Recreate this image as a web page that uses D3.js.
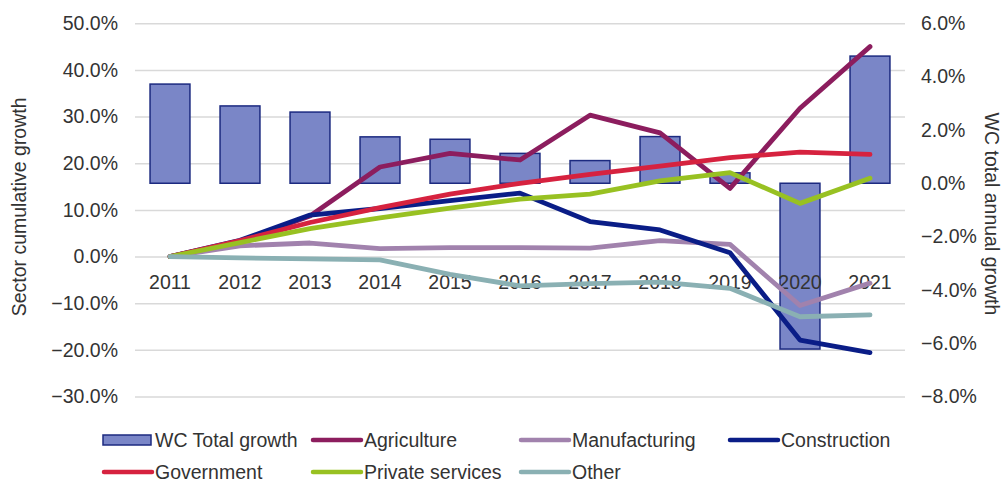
<!DOCTYPE html>
<html>
<head>
<meta charset="utf-8">
<script src="https://cdn.jsdelivr.net/npm/d3@7"></script>
<style>
  html, body { margin: 0; padding: 0; background: #fff; }
  svg { display: block; font-family: "Liberation Sans", Arial, sans-serif; }
</style>
</head>
<body>
<svg id="chart" width="1008" height="484"></svg>
<script>
// Years on the category axis
const years = ["2011","2012","2013","2014","2015","2016","2017","2018","2019","2020","2021"];

// Western Cape total annual growth (%), right axis, bars
const wcTotal = [3.72, 2.90, 2.67, 1.74, 1.65, 1.12, 0.85, 1.75, 0.39, -6.22, 4.77];

// Sector cumulative growth since 2011 (%), left axis, lines
const agriculture     = [0, 3.2, 8.7, 19.2, 22.1, 20.7, 30.3, 26.5, 14.6, 31.8, 45.0];
const manufacturing   = [0, 2.3, 2.9, 1.7, 1.9, 1.9, 1.8, 3.4, 2.6, -10.5, -5.7];
const construction    = [0, 3.5, 8.9, 10.3, 12.0, 13.6, 7.5, 5.7, 0.8, -17.9, -20.6];
const government      = [0, 3.4, 7.3, 10.5, 13.4, 15.7, 17.6, 19.4, 21.2, 22.4, 21.9];
const privateServices = [0, 3.0, 6.0, 8.3, 10.4, 12.3, 13.4, 16.2, 18.0, 11.4, 16.8];
const other           = [0, -0.3, -0.5, -0.7, -3.8, -6.3, -5.8, -5.5, -6.8, -12.9, -12.5];

// Axis tick values
const leftTicks  = [50, 40, 30, 20, 10, 0, -10, -20, -30];
const rightTicks = [6, 4, 2, 0, -2, -4, -6, -8];

const seriesNames  = ["Agriculture", "Manufacturing", "Construction", "Government", "Private services", "Other"];
const seriesValues = [agriculture, manufacturing, construction, government, privateServices, other];
const seriesColors = ["#8C1D5E", "#A182AD", "#0A1D87", "#D6223F", "#98C122", "#8AB0B3"];

const svg = d3.select("#chart");
const textColor = "#333333";
const fontSize = 19.5;

const plotLeft = 135, plotRight = 905, plotTop = 23.3, plotBottom = 396.5;

const x = d3.scaleBand().domain(years).range([plotLeft, plotRight])
  .paddingInner(0.43).paddingOuter(0.215);
const yL = d3.scaleLinear().domain([-30, 50]).range([plotBottom, plotTop]);
const yR = d3.scaleLinear().domain([-8, 6]).range([plotBottom, plotTop]);

// Horizontal gridlines on the left-axis ticks
const gridY = d3.axisLeft(yL).tickValues(leftTicks).tickSize(-(plotRight - plotLeft)).tickFormat("");
const grid = svg.append("g").attr("transform", `translate(${plotLeft},0)`).call(gridY);
grid.select(".domain").remove();
grid.selectAll(".tick line").attr("stroke", "#D9D9D9").attr("stroke-width", 1.5);

// Left axis labels
const leftAxis = d3.axisLeft(yL).tickValues(leftTicks).tickSize(0).tickPadding(0)
  .tickFormat(d => d3.format(".1f")(d) + "%");
const gl = svg.append("g").attr("transform", "translate(118,0)").call(leftAxis);
gl.select(".domain").remove();
gl.selectAll("text").attr("font-size", fontSize).attr("fill", textColor)
  .attr("font-family", "Liberation Sans, Arial, sans-serif");

// Right axis labels
const rightAxis = d3.axisRight(yR).tickValues(rightTicks).tickSize(0).tickPadding(0)
  .tickFormat(d => d3.format(".1f")(d) + "%");
const gr = svg.append("g").attr("transform", "translate(921,0)").call(rightAxis);
gr.select(".domain").remove();
gr.selectAll("text").attr("font-size", fontSize).attr("fill", textColor)
  .attr("font-family", "Liberation Sans, Arial, sans-serif");

// Axis titles
svg.append("text")
  .attr("transform", `translate(26,${(plotTop + plotBottom) / 2 - 3}) rotate(-90)`)
  .attr("text-anchor", "middle").attr("font-size", fontSize).attr("fill", textColor)
  .text("Sector cumulative growth");
svg.append("text")
  .attr("transform", `translate(985,${(plotTop + plotBottom) / 2 + 4}) rotate(90)`)
  .attr("text-anchor", "middle").attr("font-size", fontSize).attr("fill", textColor)
  .text("WC total annual growth");

// Bars: WC total growth on the right axis
svg.append("g").selectAll("rect").data(wcTotal).join("rect")
  .attr("x", (d, i) => x(years[i]))
  .attr("width", x.bandwidth())
  .attr("y", d => Math.min(yR(d), yR(0)))
  .attr("height", d => Math.abs(yR(d) - yR(0)))
  .attr("fill", "#7A86C7")
  .attr("stroke", "#1C2A80")
  .attr("stroke-width", 1.5);

// Category labels sitting just under the 0% line
svg.append("g").selectAll("text").data(years).join("text")
  .attr("x", d => x(d) + x.bandwidth() / 2)
  .attr("y", yL(0) + 32)
  .attr("text-anchor", "middle")
  .attr("font-size", fontSize).attr("fill", textColor)
  .text(d => d);

// Sector lines
const line = d3.line()
  .x((d, i) => x(years[i]) + x.bandwidth() / 2)
  .y(d => yL(d));

svg.append("g").selectAll("path").data(seriesValues).join("path")
  .attr("d", d => line(d))
  .attr("fill", "none")
  .attr("stroke", (d, i) => seriesColors[i])
  .attr("stroke-width", 4.8)
  .attr("stroke-linejoin", "round")
  .attr("stroke-linecap", "round");

// Legend
const legendItems = [
  { name: "WC Total growth", type: "bar", col: 0, row: 0 },
  { name: seriesNames[0], color: seriesColors[0], col: 1, row: 0 },
  { name: seriesNames[1], color: seriesColors[1], col: 2, row: 0 },
  { name: seriesNames[2], color: seriesColors[2], col: 3, row: 0 },
  { name: seriesNames[3], color: seriesColors[3], col: 0, row: 1 },
  { name: seriesNames[4], color: seriesColors[4], col: 1, row: 1 },
  { name: seriesNames[5], color: seriesColors[5], col: 2, row: 1 }
];
const legendCols = [103, 312, 520, 729];
const legendRows = [440, 472];

const lg = svg.append("g").selectAll("g").data(legendItems).join("g")
  .attr("transform", d => `translate(${legendCols[d.col]},${legendRows[d.row]})`);

lg.each(function(d) {
  const g = d3.select(this);
  if (d.type === "bar") {
    g.append("rect").attr("x", 0).attr("y", -5).attr("width", 48).attr("height", 10)
      .attr("fill", "#7A86C7").attr("stroke", "#1C2A80").attr("stroke-width", 1.5);
  } else {
    g.append("line").attr("x1", 1).attr("x2", 49).attr("y1", 0).attr("y2", 0)
      .attr("stroke", d.color).attr("stroke-width", 4.5).attr("stroke-linecap", "round");
  }
  g.append("text").attr("x", 52).attr("y", 0).attr("dy", "0.35em")
    .attr("font-size", fontSize).attr("fill", textColor).text(d.name);
});
</script>
</body>
</html>
